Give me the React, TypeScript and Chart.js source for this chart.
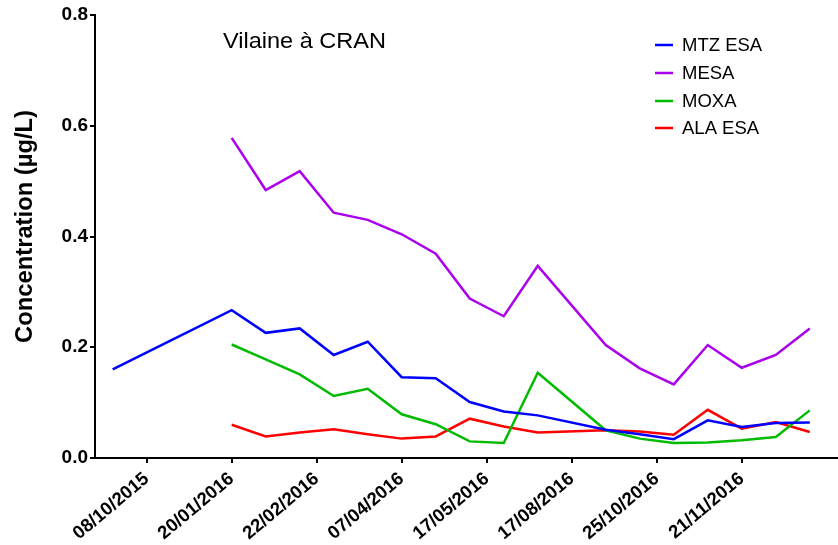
import React, { useEffect, useRef } from "react";
import { Chart, registerables } from "chart.js";
Chart.register(...registerables);

const FONT = "'Liberation Sans', Arial, Helvetica, sans-serif";

const xPositions = [-3.5, 0, 1, 2, 3, 4, 5, 6, 7, 8, 9, 11, 12, 13, 14, 15, 16, 17];
const mtzEsa = [0.16, 0.267, 0.226, 0.234, 0.186, 0.21, 0.146, 0.144, 0.101, 0.084, 0.077, 0.051, 0.043, 0.034, 0.068, 0.056, 0.063, 0.064];
const mesa = [null, 0.578, 0.484, 0.518, 0.443, 0.43, 0.404, 0.369, 0.288, 0.256, 0.347, 0.204, 0.162, 0.133, 0.204, 0.163, 0.186, 0.234];
const moxa = [null, 0.205, 0.178, 0.151, 0.112, 0.125, 0.079, 0.061, 0.03, 0.027, 0.154, 0.05, 0.035, 0.027, 0.028, 0.032, 0.038, 0.086];
const alaEsa = [null, 0.06, 0.039, 0.046, 0.052, 0.043, 0.035, 0.039, 0.071, 0.057, 0.046, 0.05, 0.048, 0.042, 0.087, 0.053, 0.065, 0.047];

const tickPositions = [-2.5, 0, 2.5, 5, 7.5, 10, 12.5, 15];
const tickLabels = ["08/10/2015", "20/01/2016", "22/02/2016", "07/04/2016", "17/05/2016", "17/08/2016", "25/10/2016", "21/11/2016"];

const seriesNames = ["MTZ ESA", "MESA", "MOXA", "ALA ESA"];
const seriesColors = ["#0000ff", "#aa00ee", "#00bb00", "#ff0000"];
const seriesValues = [mtzEsa, mesa, moxa, alaEsa];

const chartTitle = "Vilaine à CRAN";
const yTitle = "Concentration (µg/L)";

function toPoints(vals: (number | null)[]) {
  const pts: { x: number; y: number }[] = [];
  vals.forEach((v, i) => {
    if (v !== null && v !== undefined) pts.push({ x: xPositions[i], y: v });
  });
  return pts;
}

function fitText(ctx: CanvasRenderingContext2D, text: string, x: number, y: number, width: number) {
  const w = ctx.measureText(text).width;
  ctx.save();
  ctx.translate(x, y);
  ctx.scale(width / w, 1);
  ctx.fillText(text, 0, 0);
  ctx.restore();
}

const decorPlugin = {
  id: "decor",
  afterDraw(chart: any) {
    const ctx: CanvasRenderingContext2D = chart.ctx;
    ctx.save();
    ctx.fillStyle = "#000";
    ctx.font = `22px ${FONT}`;
    ctx.textAlign = "left";
    ctx.textBaseline = "alphabetic";
    fitText(ctx, chartTitle, 223, 47.5, 163);
    ctx.save();
    ctx.translate(31.5, 226.5);
    ctx.rotate(-Math.PI / 2);
    ctx.font = `bold 23px ${FONT}`;
    ctx.textAlign = "left";
    fitText(ctx, yTitle, -116.5, 0, 233);
    ctx.restore();
    const rowsY = [45, 73, 101, 128];
    ctx.font = `18.5px ${FONT}`;
    ctx.textBaseline = "middle";
    seriesNames.forEach((name, i) => {
      ctx.strokeStyle = seriesColors[i];
      ctx.lineWidth = 2.5;
      ctx.beginPath();
      ctx.moveTo(655, rowsY[i]);
      ctx.lineTo(673, rowsY[i]);
      ctx.stroke();
      ctx.fillStyle = "#000";
      ctx.fillText(name, 682, rowsY[i] + 1);
    });
    ctx.restore();
  },
};

export default function App() {
  const ref = useRef<HTMLCanvasElement>(null);
  useEffect(() => {
    if (!ref.current) return;
    const chart = new Chart(ref.current, {
      type: "line",
      data: {
        datasets: seriesNames.map((name, i) => ({
          label: name,
          data: toPoints(seriesValues[i]),
          borderColor: seriesColors[i],
          backgroundColor: seriesColors[i],
          borderWidth: 2.5,
          pointRadius: 0,
          tension: 0,
          fill: false,
        })),
      },
      options: {
        animation: false,
        responsive: false,
        layout: { padding: { top: 15, left: 0, right: 0, bottom: 0 } },
        plugins: { legend: { display: false }, tooltip: { enabled: false }, title: { display: false } },
        scales: {
          x: {
            type: "linear",
            min: -4.02,
            max: 17.83,
            afterBuildTicks: (axis: any) => {
              axis.ticks = tickPositions.map((v) => ({ value: v }));
            },
            afterFit: (scale: any) => {
              scale.height = 87;
            },
            grid: { display: true, drawOnChartArea: false, drawTicks: true, tickLength: 5, color: "#000", lineWidth: 2 },
            border: { display: true, color: "#000", width: 2 },
            ticks: {
              autoSkip: false,
              minRotation: 40,
              maxRotation: 40,
              padding: 5,
              color: "#000",
              font: { family: FONT, size: 18.5, weight: "bold" },
              callback: (_v: any, index: number) => tickLabels[index],
            },
          },
          y: {
            type: "linear",
            min: 0,
            max: 0.8,
            afterFit: (scale: any) => {
              scale.width = 95;
            },
            grid: { display: true, drawOnChartArea: false, drawTicks: true, tickLength: 5, color: "#000", lineWidth: 2 },
            border: { display: true, color: "#000", width: 2 },
            ticks: {
              stepSize: 0.2,
              padding: 2,
              color: "#000",
              font: { family: FONT, size: 19, weight: "bold" },
              callback: (v: any) => Number(v).toFixed(1),
            },
          },
        },
      },
      plugins: [decorPlugin],
    } as any);
    return () => chart.destroy();
  }, []);
  return (
    <div style={{ position: "absolute", left: 0, top: 0, width: 838, height: 545, background: "#fff" }}>
      <canvas ref={ref} width={838} height={545} />
    </div>
  );
}
